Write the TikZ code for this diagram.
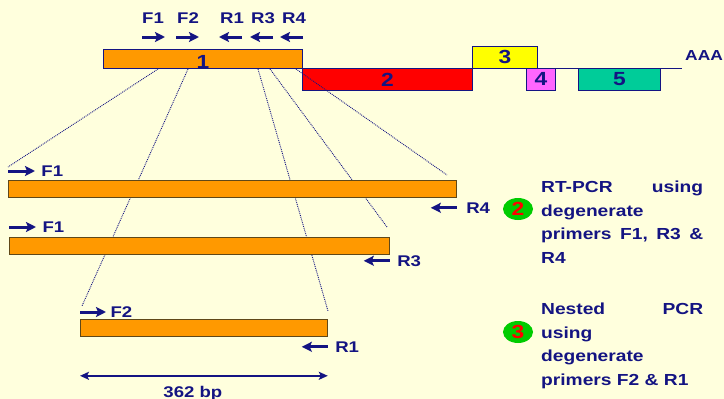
\documentclass[tikz,border=0pt]{standalone}
\usepackage{fontspec}
\newfontfamily\slidefont{Liberation Sans}[FakeStretch=1.2]
\usepackage{tikz}
\usetikzlibrary{arrows.meta, positioning, calc, shapes.geometric}
\definecolor{slide-bg}{RGB}{255, 255, 221}
\definecolor{slide-navy}{RGB}{20, 20, 130}
\definecolor{exon-orange}{RGB}{255, 153, 0}
\definecolor{exon-red}{RGB}{255, 0, 0}
\definecolor{exon-yellow}{RGB}{255, 255, 0}
\definecolor{exon-pink}{RGB}{255, 102, 255}
\definecolor{exon-teal}{RGB}{0, 204, 153}
\definecolor{bar-edge}{RGB}{96, 72, 24}
\definecolor{mark-green}{RGB}{0, 204, 0}

\begin{document}
\begin{tikzpicture}[x=1pt, y=-1pt,
        exon/.style={rectangle, draw=slide-navy, line width=0.8pt,
                     anchor=north west, inner sep=0pt, minimum height=22pt,
                     font=\slidefont\bfseries\fontsize{19}{19}\selectfont, text=slide-navy},
        bar/.style={rectangle, draw=bar-edge, line width=0.8pt, fill=exon-orange,
                    anchor=north west, inner sep=0pt, minimum height=17pt},
        lbl/.style={inner sep=0pt, text=slide-navy,
                    font=\slidefont\bfseries\fontsize{15.5}{15.5}\selectfont},
        note/.style={inner sep=0pt, anchor=north west, text width=162pt, align=left,
                     text=slide-navy, font=\slidefont\bfseries\fontsize{16}{23.6}\selectfont},
        stepmark/.style={ellipse, fill=mark-green, inner sep=0pt,
                         minimum width=30pt, minimum height=22pt, text=exon-red,
                         font=\slidefont\bfseries\fontsize{19}{19}\selectfont},
        primer/.style={-{Stealth[length=10pt, width=10pt, inset=2pt]}, line width=3pt, slide-navy},
        dim/.style={{Stealth[length=9pt, width=8pt, inset=2pt]}-{Stealth[length=9pt, width=8pt, inset=2pt]},
                    line width=2.2pt, slide-navy},
        guide/.style={densely dotted, line width=0.9pt, slide-navy},
        strand/.style={line width=0.9pt, slide-navy}
      ]
        \fill[slide-bg] (0,0) rectangle (724,399);
        \useasboundingbox (0,0) rectangle (724,399);

        % mRNA with its exons
        \coordinate (cap) at (127,68);
        \coordinate (polyA) at (682,68);
        \draw[strand] (cap) -- (polyA);
        \node[lbl, anchor=west, font=\slidefont\bfseries\fontsize{14.5}{14.5}\selectfont] (aaa) at (685,56) {AAA};
        \node[exon, fill=exon-orange, minimum width=199pt, minimum height=19pt] (e1) at (103,49) {};
        \node[lbl, anchor=south, font=\slidefont\bfseries\fontsize{19}{19}\selectfont] (n1) at ([yshift=0.5pt]e1.south) {1};
        \node[exon, fill=exon-red, minimum width=170pt] (e2) at (302,68) {2};
        \node[exon, fill=exon-yellow, minimum width=65pt] (e3) at (472,46) {3};
        \node[exon, fill=exon-pink, minimum width=29pt] (e4) at (526,68) {4};
        \node[exon, fill=exon-teal, minimum width=82pt] (e5) at (578,68) {5};

        % primer sites on exon 1
        \node[lbl] (pF1) at (153,18) {F1};
        \node[lbl] (pF2) at (188,18) {F2};
        \node[lbl] (pR1) at (232,18) {R1};
        \node[lbl] (pR3) at (263,18) {R3};
        \node[lbl] (pR4) at (294,18) {R4};
        \draw[primer] ($(pF1)+(-11,19)$) -- ++(23,0);
        \draw[primer] ($(pF2)+(-12,19)$) -- ++(23,0);
        \draw[primer] ($(pR1)+(10,19)$) -- ++(-23,0);
        \draw[primer] ($(pR3)+(10,19)$) -- ++(-23,0);
        \draw[primer] ($(pR4)+(9,19)$) -- ++(-23,0);

        % zoom lines to the products
        \coordinate (sF1) at (158,69);
        \coordinate (sF2) at (188,69);
        \coordinate (sR1) at (258,69);
        \coordinate (sR3) at (270,69);
        \coordinate (sR4) at (296,69);
        \coordinate (tF1) at (8,167);
        \coordinate (tF2) at (82,306);
        \coordinate (tR1) at (328,311);
        \coordinate (tR3) at (387,227);
        \coordinate (tR4) at (447,175);
        \draw[guide] (sF1) -- (tF1);
        \draw[guide] (sF2) -- (tF2);
        \draw[guide] (sR1) -- (tR1);
        \draw[guide] (sR3) -- (tR3);
        \draw[guide] (sR4) -- (tR4);

        % PCR products
        \node[bar, minimum width=448pt] (b1) at (8,180) {};
        \node[bar, minimum width=380pt] (b2) at (9,237) {};
        \node[bar, minimum width=247pt] (b3) at (80,319) {};
        \draw[primer] ([yshift=9pt]b1.north west) -- ++(27,0)
          node[lbl, anchor=west, xshift=5pt] (qF1a) {F1};
        \draw[primer] ([yshift=-10pt]b1.south east)
          node[lbl, anchor=west, xshift=8pt] (qR4) {R4} -- ++(-26,0);
        \draw[primer] ([yshift=10pt]b2.north west) -- ++(27,0)
          node[lbl, anchor=west, xshift=5pt] (qF1b) {F1};
        \draw[primer] ([yshift=-6pt]b2.south east)
          node[lbl, anchor=west, xshift=6pt] (qR3) {R3} -- ++(-26,0);
        \draw[primer] ([yshift=7pt]b3.north west) -- ++(26,0)
          node[lbl, anchor=west, xshift=3pt] (qF2) {F2};
        \draw[primer] ([yshift=-10pt]b3.south east)
          node[lbl, anchor=west, xshift=6pt] (qR1) {R1} -- ++(-26,0);
        \draw[dim] ([yshift=-39pt]b3.south west) --
          node[lbl, below=9pt, xshift=-11pt] (bp) {362 bp} ([yshift=-39pt]b3.south east);

        % steps
        \node[stepmark] (s2) at (518,209) {2};
        \node[note] (t2) at (541,181) {RT-PCR\hfill using\\degenerate\\primers\hfill F1,\hfill R3\hfill\&\\R4};
        \node[stepmark] (s3) at (518,332) {3};
        \node[note] (t3) at (541,303) {Nested\hfill PCR\\using\\degenerate\\primers F2 \& R1};
      \end{tikzpicture}
\end{document}
